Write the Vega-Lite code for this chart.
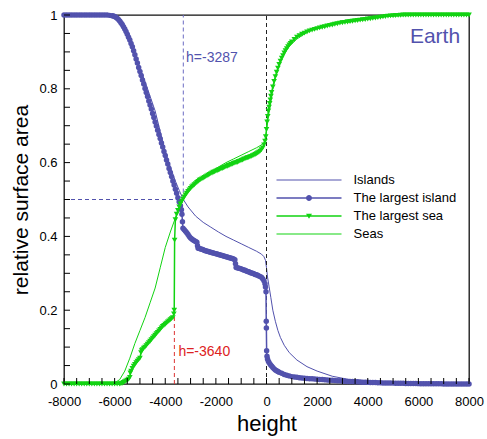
{
  "$schema": "https://vega.github.io/schema/vega-lite/v6.json",
  "width": 405,
  "height": 369,
  "autosize": "none",
  "padding": {"left": 64, "top": 15, "right": 18, "bottom": 55},
  "background": "white",
  "datasets": {
    "xTicks": [{"t":-8000},{"t":-7500},{"t":-7000},{"t":-6500},{"t":-6000},{"t":-5500},{"t":-5000},{"t":-4500},{"t":-4000},{"t":-3500},{"t":-3000},{"t":-2500},{"t":-2000},{"t":-1500},{"t":-1000},{"t":-500},{"t":0},{"t":500},{"t":1000},{"t":1500},{"t":2000},{"t":2500},{"t":3000},{"t":3500},{"t":4000},{"t":4500},{"t":5000},{"t":5500},{"t":6000},{"t":6500},{"t":7000},{"t":7500},{"t":8000}],
    "yTicks": [{"t":0},{"t":0.05},{"t":0.1},{"t":0.15},{"t":0.2},{"t":0.25},{"t":0.3},{"t":0.35},{"t":0.4},{"t":0.45},{"t":0.5},{"t":0.55},{"t":0.6},{"t":0.65},{"t":0.7},{"t":0.75},{"t":0.8},{"t":0.85},{"t":0.9},{"t":0.95},{"t":1}],
    "islands": [
      {"h":-8000,"v":1},{"h":-6400,"v":1},{"h":-6200,"v":0.999},{"h":-6000,"v":0.997},{"h":-5800,"v":0.988},{"h":-5600,"v":0.965},{"h":-5400,"v":0.93},{"h":-5200,"v":0.89},{"h":-5000,"v":0.855},{"h":-4800,"v":0.82},{"h":-4600,"v":0.78},{"h":-4400,"v":0.74},{"h":-4200,"v":0.685},{"h":-4000,"v":0.63},{"h":-3800,"v":0.588},{"h":-3600,"v":0.55},{"h":-3450,"v":0.525},{"h":-3287,"v":0.5},{"h":-3100,"v":0.48},{"h":-2800,"v":0.455},{"h":-2500,"v":0.438},{"h":-2200,"v":0.425},{"h":-1900,"v":0.412},{"h":-1600,"v":0.4},{"h":-1300,"v":0.39},{"h":-1000,"v":0.38},{"h":-700,"v":0.37},{"h":-400,"v":0.36},{"h":-200,"v":0.352},{"h":-100,"v":0.345},{"h":-40,"v":0.335},{"h":0,"v":0.315},{"h":40,"v":0.29},{"h":100,"v":0.265},{"h":170,"v":0.235},{"h":250,"v":0.2},{"h":350,"v":0.17},{"h":450,"v":0.145},{"h":550,"v":0.126},{"h":700,"v":0.105},{"h":900,"v":0.085},{"h":1200,"v":0.065},{"h":1600,"v":0.047},{"h":2000,"v":0.035},{"h":2600,"v":0.021},{"h":3200,"v":0.013},{"h":4000,"v":0.007},{"h":5000,"v":0.003},{"h":6000,"v":0.001},{"h":8000,"v":0}
    ],
    "seas": [
      {"h":-8000,"v":0},{"h":-6400,"v":0},{"h":-6200,"v":0.001},{"h":-6000,"v":0.003},{"h":-5800,"v":0.012},{"h":-5600,"v":0.035},{"h":-5400,"v":0.07},{"h":-5200,"v":0.11},{"h":-5000,"v":0.145},{"h":-4800,"v":0.18},{"h":-4600,"v":0.22},{"h":-4400,"v":0.26},{"h":-4200,"v":0.315},{"h":-4000,"v":0.37},{"h":-3800,"v":0.412},{"h":-3600,"v":0.45},{"h":-3450,"v":0.475},{"h":-3287,"v":0.5},{"h":-3100,"v":0.52},{"h":-2800,"v":0.545},{"h":-2500,"v":0.562},{"h":-2200,"v":0.575},{"h":-1900,"v":0.588},{"h":-1600,"v":0.6},{"h":-1300,"v":0.61},{"h":-1000,"v":0.62},{"h":-700,"v":0.63},{"h":-400,"v":0.64},{"h":-200,"v":0.648},{"h":-100,"v":0.655},{"h":-40,"v":0.665},{"h":0,"v":0.685},{"h":40,"v":0.71},{"h":100,"v":0.735},{"h":170,"v":0.765},{"h":250,"v":0.8},{"h":350,"v":0.83},{"h":450,"v":0.855},{"h":550,"v":0.874},{"h":700,"v":0.895},{"h":900,"v":0.915},{"h":1200,"v":0.935},{"h":1600,"v":0.953},{"h":2000,"v":0.965},{"h":2600,"v":0.979},{"h":3200,"v":0.987},{"h":4000,"v":0.993},{"h":5000,"v":0.997},{"h":6000,"v":0.999},{"h":8000,"v":1}
    ],
    "largestIsland": [
      {"h":-8000,"v":1},{"h":-7900,"v":1},{"h":-7800,"v":1},{"h":-7700,"v":1},{"h":-7600,"v":1},{"h":-7500,"v":1},{"h":-7400,"v":1},{"h":-7300,"v":1},{"h":-7200,"v":1},{"h":-7100,"v":1},{"h":-7000,"v":1},{"h":-6900,"v":1},{"h":-6800,"v":1},{"h":-6700,"v":1},{"h":-6600,"v":1},{"h":-6500,"v":1},{"h":-6400,"v":1},{"h":-6300,"v":1},{"h":-6200,"v":0.999},{"h":-6100,"v":0.998},{"h":-6050,"v":0.997},{"h":-6000,"v":0.996},{"h":-5950,"v":0.994},{"h":-5900,"v":0.991},{"h":-5850,"v":0.988},{"h":-5800,"v":0.984},{"h":-5750,"v":0.979},{"h":-5700,"v":0.974},{"h":-5650,"v":0.968},{"h":-5600,"v":0.962},{"h":-5550,"v":0.955},{"h":-5500,"v":0.948},{"h":-5450,"v":0.94},{"h":-5400,"v":0.932},{"h":-5350,"v":0.923},{"h":-5300,"v":0.914},{"h":-5250,"v":0.903},{"h":-5200,"v":0.892},{"h":-5150,"v":0.881},{"h":-5100,"v":0.87},{"h":-5050,"v":0.858},{"h":-5000,"v":0.847},{"h":-4950,"v":0.836},{"h":-4900,"v":0.824},{"h":-4850,"v":0.813},{"h":-4800,"v":0.801},{"h":-4750,"v":0.79},{"h":-4700,"v":0.779},{"h":-4650,"v":0.767},{"h":-4600,"v":0.756},{"h":-4550,"v":0.745},{"h":-4500,"v":0.733},{"h":-4450,"v":0.722},{"h":-4400,"v":0.71},{"h":-4350,"v":0.699},{"h":-4300,"v":0.688},{"h":-4250,"v":0.676},{"h":-4200,"v":0.665},{"h":-4150,"v":0.653},{"h":-4100,"v":0.642},{"h":-4050,"v":0.63},{"h":-4000,"v":0.619},{"h":-3950,"v":0.607},{"h":-3900,"v":0.596},{"h":-3850,"v":0.584},{"h":-3800,"v":0.573},{"h":-3750,"v":0.562},{"h":-3700,"v":0.55},{"h":-3650,"v":0.539},{"h":-3600,"v":0.528},{"h":-3550,"v":0.517},{"h":-3500,"v":0.505},{"h":-3450,"v":0.494},{"h":-3400,"v":0.483},{"h":-3360,"v":0.472},{"h":-3340,"v":0.46},{"h":-3320,"v":0.44},{"h":-3300,"v":0.422},{"h":-3250,"v":0.418},{"h":-3200,"v":0.414},{"h":-3150,"v":0.41},{"h":-3100,"v":0.405},{"h":-3050,"v":0.4},{"h":-3000,"v":0.396},{"h":-2950,"v":0.393},{"h":-2900,"v":0.39},{"h":-2850,"v":0.388},{"h":-2800,"v":0.386},{"h":-2750,"v":0.384},{"h":-2725,"v":0.375},{"h":-2700,"v":0.368},{"h":-2650,"v":0.367},{"h":-2600,"v":0.366},{"h":-2550,"v":0.365},{"h":-2500,"v":0.364},{"h":-2450,"v":0.362},{"h":-2400,"v":0.361},{"h":-2350,"v":0.36},{"h":-2300,"v":0.359},{"h":-2250,"v":0.358},{"h":-2200,"v":0.357},{"h":-2150,"v":0.356},{"h":-2100,"v":0.355},{"h":-2050,"v":0.354},{"h":-2000,"v":0.353},{"h":-1950,"v":0.352},{"h":-1900,"v":0.351},{"h":-1850,"v":0.35},{"h":-1800,"v":0.349},{"h":-1750,"v":0.348},{"h":-1700,"v":0.347},{"h":-1650,"v":0.346},{"h":-1600,"v":0.345},{"h":-1550,"v":0.344},{"h":-1500,"v":0.343},{"h":-1450,"v":0.342},{"h":-1400,"v":0.341},{"h":-1350,"v":0.34},{"h":-1300,"v":0.339},{"h":-1250,"v":0.337},{"h":-1225,"v":0.326},{"h":-1200,"v":0.316},{"h":-1150,"v":0.315},{"h":-1100,"v":0.314},{"h":-1050,"v":0.313},{"h":-1000,"v":0.312},{"h":-950,"v":0.31},{"h":-900,"v":0.309},{"h":-850,"v":0.308},{"h":-800,"v":0.306},{"h":-750,"v":0.305},{"h":-700,"v":0.304},{"h":-650,"v":0.302},{"h":-600,"v":0.301},{"h":-550,"v":0.3},{"h":-500,"v":0.299},{"h":-450,"v":0.297},{"h":-400,"v":0.296},{"h":-350,"v":0.295},{"h":-300,"v":0.293},{"h":-250,"v":0.291},{"h":-200,"v":0.289},{"h":-150,"v":0.285},{"h":-100,"v":0.28},{"h":-60,"v":0.272},{"h":-40,"v":0.263},{"h":-20,"v":0.25},{"h":-10,"v":0.17},{"h":-5,"v":0.152},{"h":5,"v":0.09},{"h":20,"v":0.075},{"h":40,"v":0.068},{"h":70,"v":0.062},{"h":100,"v":0.058},{"h":150,"v":0.053},{"h":200,"v":0.049},{"h":250,"v":0.045},{"h":300,"v":0.041},{"h":350,"v":0.038},{"h":400,"v":0.036},{"h":450,"v":0.034},{"h":500,"v":0.032},{"h":600,"v":0.029},{"h":700,"v":0.026},{"h":800,"v":0.024},{"h":900,"v":0.022},{"h":1000,"v":0.02},{"h":1100,"v":0.019},{"h":1200,"v":0.018},{"h":1300,"v":0.017},{"h":1400,"v":0.016},{"h":1500,"v":0.0155},{"h":1600,"v":0.015},{"h":1700,"v":0.0145},{"h":1800,"v":0.014},{"h":1900,"v":0.0135},{"h":2000,"v":0.013},{"h":2100,"v":0.0125},{"h":2200,"v":0.012},{"h":2300,"v":0.0115},{"h":2400,"v":0.011},{"h":2500,"v":0.0105},{"h":2600,"v":0.01},{"h":2700,"v":0.0095},{"h":2800,"v":0.009},{"h":2900,"v":0.0085},{"h":3000,"v":0.008},{"h":3100,"v":0.0075},{"h":3200,"v":0.007},{"h":3300,"v":0.0068},{"h":3400,"v":0.0065},{"h":3500,"v":0.0062},{"h":3600,"v":0.006},{"h":3700,"v":0.0055},{"h":3800,"v":0.005},{"h":3900,"v":0.0048},{"h":4000,"v":0.0045},{"h":4100,"v":0.0042},{"h":4200,"v":0.004},{"h":4300,"v":0.0038},{"h":4400,"v":0.0035},{"h":4500,"v":0.0032},{"h":4600,"v":0.003},{"h":4700,"v":0.0028},{"h":4800,"v":0.0027},{"h":4900,"v":0.0025},{"h":5000,"v":0.0024},{"h":5100,"v":0.0022},{"h":5200,"v":0.002},{"h":5300,"v":0.0019},{"h":5400,"v":0.0018},{"h":5500,"v":0.0016},{"h":5600,"v":0.0015},{"h":5700,"v":0.0013},{"h":5800,"v":0.0012},{"h":5900,"v":0.0011},{"h":6000,"v":0.001},{"h":6100,"v":0.0009},{"h":6200,"v":0.0008},{"h":6300,"v":0.0007},{"h":6400,"v":0.0006},{"h":6500,"v":0.0006},{"h":6600,"v":0.0005},{"h":6700,"v":0.0005},{"h":6800,"v":0.0004},{"h":6900,"v":0.0004},{"h":7000,"v":0.0003},{"h":7100,"v":0.0003},{"h":7200,"v":0.0002},{"h":7300,"v":0.0002},{"h":7400,"v":0.0001},{"h":7500,"v":0.0001},{"h":7600,"v":0},{"h":7700,"v":0},{"h":7800,"v":0},{"h":7900,"v":0},{"h":8000,"v":0}
    ],
    "largestSea": [
      {"h":-8000,"v":0},{"h":-7900,"v":0},{"h":-7800,"v":0},{"h":-7700,"v":0},{"h":-7600,"v":0},{"h":-7500,"v":0},{"h":-7400,"v":0},{"h":-7300,"v":0},{"h":-7200,"v":0},{"h":-7100,"v":0},{"h":-7000,"v":0},{"h":-6900,"v":0},{"h":-6800,"v":0},{"h":-6700,"v":0},{"h":-6600,"v":0},{"h":-6500,"v":0},{"h":-6400,"v":0},{"h":-6300,"v":0},{"h":-6200,"v":0},{"h":-6100,"v":0},{"h":-6000,"v":0},{"h":-5900,"v":0},{"h":-5800,"v":0},{"h":-5750,"v":0.001},{"h":-5700,"v":0.002},{"h":-5650,"v":0.004},{"h":-5600,"v":0.006},{"h":-5550,"v":0.008},{"h":-5500,"v":0.01},{"h":-5450,"v":0.013},{"h":-5400,"v":0.018},{"h":-5380,"v":0.03},{"h":-5350,"v":0.035},{"h":-5300,"v":0.042},{"h":-5250,"v":0.048},{"h":-5200,"v":0.053},{"h":-5150,"v":0.058},{"h":-5100,"v":0.062},{"h":-5050,"v":0.066},{"h":-5000,"v":0.07},{"h":-4960,"v":0.085},{"h":-4930,"v":0.09},{"h":-4900,"v":0.093},{"h":-4850,"v":0.097},{"h":-4800,"v":0.1},{"h":-4750,"v":0.104},{"h":-4700,"v":0.108},{"h":-4650,"v":0.112},{"h":-4600,"v":0.116},{"h":-4550,"v":0.12},{"h":-4500,"v":0.124},{"h":-4450,"v":0.128},{"h":-4400,"v":0.132},{"h":-4350,"v":0.136},{"h":-4300,"v":0.14},{"h":-4250,"v":0.144},{"h":-4200,"v":0.148},{"h":-4150,"v":0.152},{"h":-4100,"v":0.156},{"h":-4050,"v":0.159},{"h":-4000,"v":0.162},{"h":-3950,"v":0.165},{"h":-3900,"v":0.168},{"h":-3850,"v":0.171},{"h":-3800,"v":0.174},{"h":-3750,"v":0.177},{"h":-3700,"v":0.18},{"h":-3660,"v":0.19},{"h":-3645,"v":0.2},{"h":-3630,"v":0.39},{"h":-3600,"v":0.445},{"h":-3550,"v":0.46},{"h":-3500,"v":0.47},{"h":-3450,"v":0.48},{"h":-3400,"v":0.488},{"h":-3350,"v":0.495},{"h":-3300,"v":0.501},{"h":-3250,"v":0.507},{"h":-3200,"v":0.512},{"h":-3150,"v":0.517},{"h":-3100,"v":0.522},{"h":-3050,"v":0.526},{"h":-3000,"v":0.53},{"h":-2950,"v":0.534},{"h":-2900,"v":0.537},{"h":-2850,"v":0.54},{"h":-2800,"v":0.543},{"h":-2750,"v":0.546},{"h":-2700,"v":0.549},{"h":-2650,"v":0.552},{"h":-2600,"v":0.554},{"h":-2550,"v":0.556},{"h":-2500,"v":0.558},{"h":-2450,"v":0.56},{"h":-2400,"v":0.562},{"h":-2350,"v":0.564},{"h":-2300,"v":0.566},{"h":-2250,"v":0.568},{"h":-2200,"v":0.57},{"h":-2150,"v":0.572},{"h":-2100,"v":0.574},{"h":-2050,"v":0.575},{"h":-2000,"v":0.577},{"h":-1950,"v":0.578},{"h":-1900,"v":0.58},{"h":-1850,"v":0.581},{"h":-1800,"v":0.583},{"h":-1750,"v":0.584},{"h":-1700,"v":0.586},{"h":-1650,"v":0.587},{"h":-1600,"v":0.589},{"h":-1550,"v":0.59},{"h":-1500,"v":0.592},{"h":-1450,"v":0.593},{"h":-1400,"v":0.595},{"h":-1350,"v":0.596},{"h":-1300,"v":0.598},{"h":-1250,"v":0.599},{"h":-1200,"v":0.6},{"h":-1150,"v":0.601},{"h":-1100,"v":0.603},{"h":-1050,"v":0.604},{"h":-1000,"v":0.606},{"h":-950,"v":0.607},{"h":-900,"v":0.609},{"h":-850,"v":0.61},{"h":-800,"v":0.612},{"h":-750,"v":0.613},{"h":-700,"v":0.614},{"h":-650,"v":0.616},{"h":-600,"v":0.617},{"h":-550,"v":0.619},{"h":-500,"v":0.62},{"h":-450,"v":0.622},{"h":-400,"v":0.624},{"h":-350,"v":0.626},{"h":-300,"v":0.628},{"h":-250,"v":0.631},{"h":-200,"v":0.635},{"h":-150,"v":0.64},{"h":-100,"v":0.648},{"h":-60,"v":0.658},{"h":-30,"v":0.67},{"h":0,"v":0.69},{"h":25,"v":0.71},{"h":50,"v":0.725},{"h":75,"v":0.74},{"h":100,"v":0.75},{"h":125,"v":0.76},{"h":150,"v":0.77},{"h":175,"v":0.78},{"h":200,"v":0.79},{"h":250,"v":0.805},{"h":300,"v":0.82},{"h":350,"v":0.833},{"h":400,"v":0.845},{"h":450,"v":0.856},{"h":500,"v":0.866},{"h":550,"v":0.875},{"h":600,"v":0.883},{"h":650,"v":0.89},{"h":700,"v":0.897},{"h":750,"v":0.903},{"h":800,"v":0.909},{"h":850,"v":0.914},{"h":900,"v":0.919},{"h":950,"v":0.923},{"h":1000,"v":0.927},{"h":1100,"v":0.934},{"h":1200,"v":0.94},{"h":1300,"v":0.944},{"h":1400,"v":0.948},{"h":1500,"v":0.951},{"h":1600,"v":0.954},{"h":1700,"v":0.957},{"h":1800,"v":0.959},{"h":1900,"v":0.961},{"h":2000,"v":0.963},{"h":2100,"v":0.965},{"h":2200,"v":0.967},{"h":2300,"v":0.968},{"h":2400,"v":0.97},{"h":2500,"v":0.972},{"h":2600,"v":0.973},{"h":2700,"v":0.975},{"h":2800,"v":0.976},{"h":2900,"v":0.978},{"h":3000,"v":0.979},{"h":3100,"v":0.98},{"h":3200,"v":0.981},{"h":3300,"v":0.982},{"h":3400,"v":0.983},{"h":3500,"v":0.984},{"h":3600,"v":0.985},{"h":3700,"v":0.986},{"h":3800,"v":0.987},{"h":3900,"v":0.988},{"h":4000,"v":0.989},{"h":4100,"v":0.99},{"h":4200,"v":0.991},{"h":4300,"v":0.992},{"h":4400,"v":0.993},{"h":4500,"v":0.994},{"h":4600,"v":0.995},{"h":4700,"v":0.996},{"h":4800,"v":0.997},{"h":4900,"v":0.9975},{"h":5000,"v":0.998},{"h":5100,"v":0.9985},{"h":5200,"v":0.999},{"h":5300,"v":0.9995},{"h":5400,"v":1},{"h":5500,"v":1},{"h":5600,"v":1},{"h":5700,"v":1},{"h":5800,"v":1},{"h":5900,"v":1},{"h":6000,"v":1},{"h":6100,"v":1},{"h":6200,"v":1},{"h":6300,"v":1},{"h":6400,"v":1},{"h":6500,"v":1},{"h":6600,"v":1},{"h":6700,"v":1},{"h":6800,"v":1},{"h":6900,"v":1},{"h":7000,"v":1},{"h":7100,"v":1},{"h":7200,"v":1},{"h":7300,"v":1},{"h":7400,"v":1},{"h":7500,"v":1},{"h":7600,"v":1},{"h":7700,"v":1},{"h":7800,"v":1},{"h":7900,"v":1},{"h":8000,"v":1}
    ]
  },
  "layer": [
    {
      "data": {"name": "islands"},
      "mark": {"type": "line", "strokeWidth": 1},
      "encoding": {
        "x": {"field": "h", "type": "quantitative", "title": "height",
          "scale": {"domain": [-8000, 8000], "nice": false, "zero": false},
          "axis": {
            "values": [-8000,-6000,-4000,-2000,0,2000,4000,6000,8000],
            "labelExpr": "'' + datum.value",
            "labelFlush": false,
            "domain": false,
            "ticks": false,
            "tickSize": 0,
            "labelPadding": 11,
            "titleFontSize": 22,
            "titlePadding": 5
          }
        },
        "y": {"field": "v", "type": "quantitative", "title": "relative surface area",
          "scale": {"domain": [0, 1], "nice": false, "zero": false},
          "axis": {
            "values": [0,0.2,0.4,0.6,0.8,1],
            "labelExpr": "'' + datum.value",
            "labelFlush": false,
            "domain": false,
            "ticks": false,
            "tickSize": 0,
            "labelPadding": 7,
            "titleFontSize": 21,
            "titlePadding": 7
          }
        },
        "color": {"datum": "Islands", "type": "nominal",
          "scale": {"domain": ["Islands", "The largest island", "The largest sea", "Seas"], "range": ["#5252ad", "#5252ad", "#12d312", "#12d312"]},
          "legend": {
            "orient": "none", "legendX": 238.5, "legendY": 158.5, "title": null, "padding": 0,
            "labelFont": "Liberation Sans", "labelFontSize": 13, "labelColor": "#000",
            "symbolSize": 100, "labelOffset": 38, "rowPadding": 4,
            "encode": {"symbols": {"update": {
              "shape": {"signal": "datum.value === 'The largest island' ? 'M-6.5,-0.14H6.5V0.14H-6.5Z M0.6,0A0.6,0.6 0 1,1 -0.6,0A0.6,0.6 0 1,1 0.6,0Z' : datum.value === 'The largest sea' ? 'M-6.5,-0.14H6.5V0.14H-6.5Z M-0.6,-0.45H0.6L0,0.55Z' : 'M-6.5,-0.1H6.5V0.1H-6.5Z'"},
              "fill": {"signal": "scale('color', datum.value)"},
              "stroke": {"value": "transparent"},
              "strokeWidth": {"value": 0},
              "opacity": {"value": 1}
            }}}
          }
        }
      }
    },
    {
      "data": {"values": [{}]},
      "mark": {"type": "rule", "color": "#222222", "strokeDash": [4, 3], "strokeWidth": 1},
      "encoding": {"x": {"datum": 0, "type": "quantitative"}, "y": {"datum": 0, "type": "quantitative"}, "y2": {"datum": 1}}
    },
    {
      "data": {"values": [{}]},
      "mark": {"type": "rule", "color": "#6c6cc4", "strokeDash": [4, 3], "strokeWidth": 1},
      "encoding": {"x": {"datum": -3287, "type": "quantitative"}, "y": {"datum": 0.5, "type": "quantitative"}, "y2": {"datum": 1}}
    },
    {
      "data": {"values": [{}]},
      "mark": {"type": "rule", "color": "#5252ad", "strokeDash": [4, 3], "strokeWidth": 1},
      "encoding": {"x": {"datum": -8000, "type": "quantitative"}, "x2": {"datum": -3287}, "y": {"datum": 0.5, "type": "quantitative"}}
    },
    {
      "data": {"values": [{}]},
      "mark": {"type": "rule", "color": "#dd3333", "strokeDash": [4, 3], "strokeWidth": 1},
      "encoding": {"x": {"datum": -3640, "type": "quantitative"}, "y": {"datum": 0, "type": "quantitative"}, "y2": {"datum": 0.2}}
    },
    {
      "data": {"name": "seas"},
      "mark": {"type": "line", "strokeWidth": 1},
      "encoding": {
        "x": {"field": "h", "type": "quantitative", "title": "height"},
        "y": {"field": "v", "type": "quantitative", "title": "relative surface area"},
        "color": {"datum": "Seas", "type": "nominal"}
      }
    },
    {
      "data": {"name": "largestIsland"},
      "mark": {"type": "line", "strokeWidth": 1.5},
      "encoding": {
        "x": {"field": "h", "type": "quantitative", "title": "height"},
        "y": {"field": "v", "type": "quantitative", "title": "relative surface area"},
        "color": {"datum": "The largest island", "type": "nominal"}
      }
    },
    {
      "data": {"name": "largestIsland"},
      "mark": {"type": "point", "shape": "circle", "filled": true, "size": 30, "opacity": 1},
      "encoding": {
        "x": {"field": "h", "type": "quantitative", "title": "height"},
        "y": {"field": "v", "type": "quantitative", "title": "relative surface area"},
        "color": {"datum": "The largest island", "type": "nominal"}
      }
    },
    {
      "data": {"name": "largestSea"},
      "mark": {"type": "line", "strokeWidth": 1.5},
      "encoding": {
        "x": {"field": "h", "type": "quantitative", "title": "height"},
        "y": {"field": "v", "type": "quantitative", "title": "relative surface area"},
        "color": {"datum": "The largest sea", "type": "nominal"}
      }
    },
    {
      "data": {"name": "largestSea"},
      "mark": {"type": "point", "shape": "triangle-down", "filled": true, "size": 32, "opacity": 1},
      "encoding": {
        "x": {"field": "h", "type": "quantitative", "title": "height"},
        "y": {"field": "v", "type": "quantitative", "title": "relative surface area"},
        "color": {"datum": "The largest sea", "type": "nominal"}
      }
    },
    {
      "data": {"name": "xTicks"},
      "mark": {"type": "tick", "orient": "vertical", "size": 6, "thickness": 1, "color": "#000000", "opacity": 1, "yOffset": -3},
      "encoding": {
        "x": {"field": "t", "type": "quantitative", "title": "height"},
        "y": {"datum": 0, "type": "quantitative"}
      }
    },
    {
      "data": {"name": "yTicks"},
      "mark": {"type": "tick", "orient": "horizontal", "size": 6, "thickness": 1, "color": "#000000", "opacity": 1, "xOffset": 3},
      "encoding": {
        "y": {"field": "t", "type": "quantitative", "title": "relative surface area"},
        "x": {"datum": -8000, "type": "quantitative"}
      }
    },
    {
      "data": {"values": [{}]},
      "mark": {"type": "text", "font": "Liberation Sans", "fontSize": 14, "color": "#5252ad", "align": "left", "baseline": "middle"},
      "encoding": {"x": {"datum": -3180, "type": "quantitative"}, "y": {"datum": 0.884, "type": "quantitative"}, "text": {"value": "h=-3287"}}
    },
    {
      "data": {"values": [{}]},
      "mark": {"type": "text", "font": "Liberation Sans", "fontSize": 14, "color": "#dd2222", "align": "left", "baseline": "middle"},
      "encoding": {"x": {"datum": -3480, "type": "quantitative"}, "y": {"datum": 0.088, "type": "quantitative"}, "text": {"value": "h=-3640"}}
    },
    {
      "data": {"values": [{}]},
      "mark": {"type": "text", "font": "Liberation Sans", "fontSize": 21, "color": "#5252ad", "align": "right", "baseline": "middle"},
      "encoding": {"x": {"datum": 7650, "type": "quantitative"}, "y": {"datum": 0.941, "type": "quantitative"}, "text": {"value": "Earth"}}
    }
  ],
  "config": {
    "view": {"stroke": "#111111", "strokeWidth": 1.3, "fill": null},
    "axis": {"grid": false, "zindex": 1, "labelFont": "Liberation Sans", "labelFontSize": 13, "labelColor": "#000", "titleFont": "Liberation Sans", "titleFontWeight": "normal", "titleColor": "#000", "tickColor": "#000"}
  }
}
